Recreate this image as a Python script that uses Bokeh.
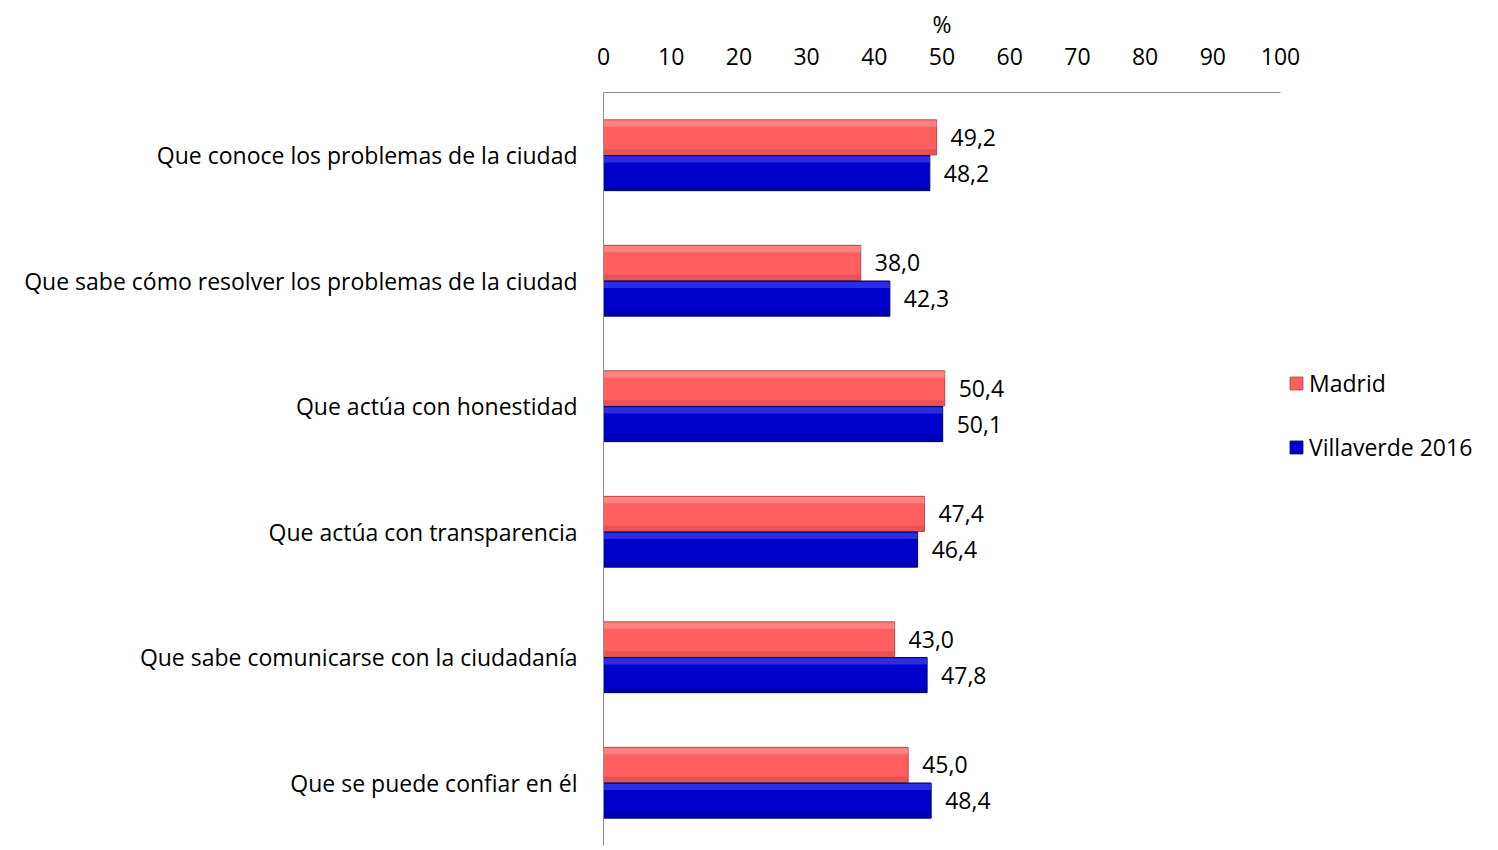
from bokeh.plotting import figure
from bokeh.models import (ColumnDataSource, FactorRange, Range1d, LinearAxis, CategoricalAxis,
                          Legend, LegendItem, FixedTicker)
from bokeh.transform import dodge
from bokeh.core.properties import value
from bokeh.embed import file_html
from bokeh.resources import INLINE

categories = [
    "Que conoce los problemas de la ciudad",
    "Que sabe cómo resolver los problemas de la ciudad",
    "Que actúa con honestidad",
    "Que actúa con transparencia",
    "Que sabe comunicarse con la ciudadanía",
    "Que se puede confiar en él",
]
madrid = [49.2, 38.0, 50.4, 47.4, 43.0, 45.0]
villaverde = [48.2, 42.3, 50.1, 46.4, 47.8, 48.4]
x_ticks = [0, 10, 20, 30, 40, 50, 60, 70, 80, 90, 100]
series_names = ["Madrid", "Villaverde 2016"]
axis_title = "%"

FONT = "Open Sans"
FS = "23px"
RED, RED_EDGE, RED_HI, RED_LO = "#FF5F5F", "#B84848", "#FF9A9A", "#D04848"
BLUE, BLUE_EDGE, BLUE_HI, BLUE_LO = "#0000CC", "#00006E", "#4A4AF0", "#00009A"

# layout: the axis (0..100) spans 677 px of an 887 px wide frame; the rest holds the legend
AXIS_PX, FRAME_PX = 677, 887
X_END = 100 * FRAME_PX / AXIS_PX

fmt = lambda v: f"{v:.1f}".replace(".", ",")
src = ColumnDataSource(dict(
    cat=categories, madrid=madrid, villaverde=villaverde,
    mlab=[fmt(v) for v in madrid], vlab=[fmt(v) for v in villaverde],
))

p = figure(width=1490, height=846, output_backend="svg", toolbar_location=None,
           y_range=FactorRange(factors=list(reversed(categories))),
           x_range=Range1d(0, X_END), x_axis_location=None, y_axis_location=None,
           min_border_left=603, min_border_top=92, min_border_right=0, min_border_bottom=1)
p.outline_line_color = None
p.xgrid.visible = False
p.ygrid.visible = False
p.background_fill_color = "white"

# axis title "%" centred over the 0..100 part of the axis
p.title.text = axis_title
p.title.align = "left"
p.title.offset = AXIS_PX / 2 - 9.5
p.title.standoff = 10
p.title.text_font = FONT
p.title.text_font_size = FS
p.title.text_font_style = "normal"
p.title.text_color = "#000000"

BH = 0.28
OFF = 0.142
r_m = p.hbar(y=dodge("cat", OFF, range=p.y_range), right="madrid", left=0, height=BH, source=src,
             fill_color=RED, line_color=RED_EDGE, line_width=1)
r_v = p.hbar(y=dodge("cat", -OFF, range=p.y_range), right="villaverde", left=0, height=BH, source=src,
             fill_color=BLUE, line_color=BLUE_EDGE, line_width=1)
# bevel highlights
p.hbar(y=dodge("cat", OFF + BH / 2 - 0.03, range=p.y_range), right="madrid", left=0, height=0.05,
       source=src, fill_color=RED_HI, fill_alpha=0.6, line_color=None)
p.hbar(y=dodge("cat", OFF - BH / 2 + 0.025, range=p.y_range), right="madrid", left=0, height=0.04,
       source=src, fill_color=RED_LO, fill_alpha=0.5, line_color=None)
p.hbar(y=dodge("cat", -OFF + BH / 2 - 0.03, range=p.y_range), right="villaverde", left=0, height=0.05,
       source=src, fill_color=BLUE_HI, fill_alpha=0.6, line_color=None)
p.hbar(y=dodge("cat", -OFF - BH / 2 + 0.025, range=p.y_range), right="villaverde", left=0, height=0.04,
       source=src, fill_color=BLUE_LO, fill_alpha=0.5, line_color=None)

p.text(x="madrid", y=dodge("cat", OFF, range=p.y_range), text="mlab", source=src, x_offset=14,
       text_baseline="middle", text_font=value(FONT), text_font_size=FS, text_color="#000000")
p.text(x="villaverde", y=dodge("cat", -OFF, range=p.y_range), text="vlab", source=src, x_offset=14,
       text_baseline="middle", text_font=value(FONT), text_font_size=FS, text_color="#000000")

xa = LinearAxis(ticker=FixedTicker(ticks=x_ticks), bounds=(0, 100))
xa.axis_line_color = "#8C8C8C"
xa.major_tick_line_color = None
xa.minor_tick_line_color = None
xa.major_label_text_font = FONT
xa.major_label_text_font_size = FS
xa.major_label_text_color = "#000000"
xa.major_label_standoff = 22
p.add_layout(xa, "above")

ya = CategoricalAxis()
ya.axis_line_color = "#8C8C8C"
ya.major_tick_line_color = None
ya.minor_tick_line_color = None
ya.major_label_text_font = FONT
ya.major_label_text_font_size = FS
ya.major_label_text_color = "#000000"
ya.major_label_standoff = 20
p.add_layout(ya, "left")

legend = Legend(items=[LegendItem(label=series_names[0], renderers=[r_m]),
                       LegendItem(label=series_names[1], renderers=[r_v])],
                location=(685, 382), orientation="vertical", border_line_color=None,
                background_fill_alpha=0, glyph_width=16, glyph_height=16, label_standoff=5,
                spacing=32, padding=0, margin=0,
                label_text_font=FONT, label_text_font_size=FS, label_text_color="#000000")
p.add_layout(legend, "center")

open("out.html", "w").write(file_html(p, INLINE))
